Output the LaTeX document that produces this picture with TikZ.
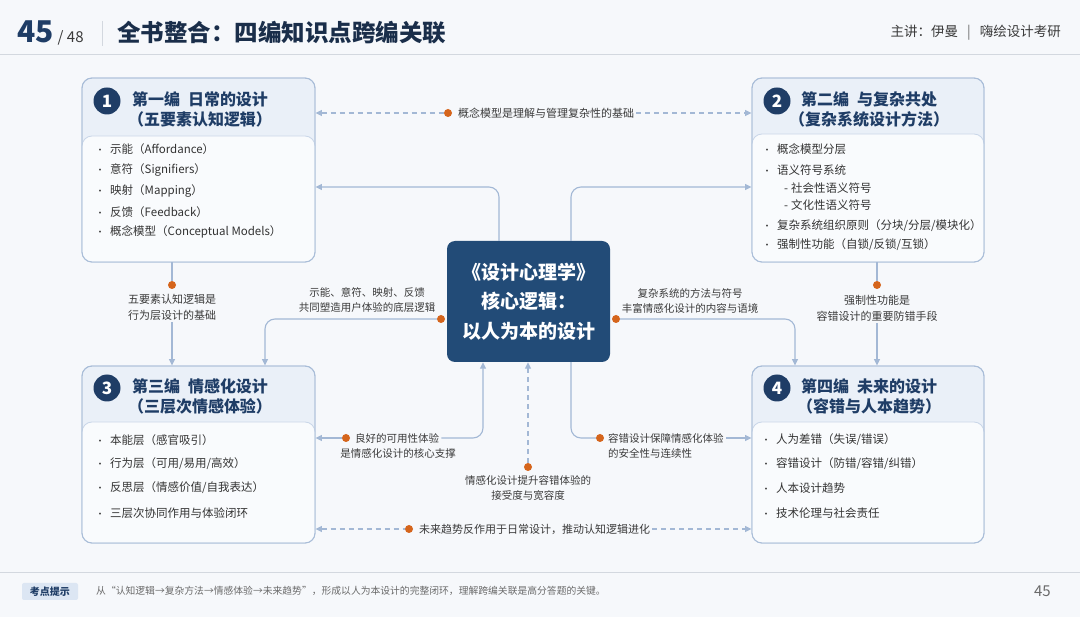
\documentclass[tikz,border=0pt]{standalone}
\usepackage{fontspec}
\setmainfont{Noto Sans CJK SC}
\usetikzlibrary{arrows.meta}
\definecolor{bgc}{HTML}{F6F8FB}
\definecolor{navy}{HTML}{1F3D66}
\definecolor{titlec}{HTML}{1A2E4A}
\definecolor{centf}{HTML}{224B77}
\definecolor{linec}{HTML}{A3B8D5}
\definecolor{orng}{HTML}{D5651C}
\definecolor{boxb}{HTML}{A9BDD8}
\definecolor{boxb2}{HTML}{C9D6E8}
\definecolor{headf}{HTML}{EAF0F8}
\definecolor{bodyf}{HTML}{F9FBFD}
\definecolor{itemc}{HTML}{333333}
\definecolor{labc}{HTML}{3A3A3A}
\definecolor{grayl}{HTML}{D3D8DF}
\definecolor{darkg}{HTML}{3A3A3A}
\definecolor{tagf}{HTML}{DCE6F3}
\definecolor{footc}{HTML}{6A6A6A}
\newcommand{\bitem}[4]{\node[item] (#1) at (#2,#3) {\llap{\makebox[0pt][c]{\fontsize{9}{9}\selectfont •}\hspace{10pt}}#4};}
\begin{document}
\begin{tikzpicture}[x=1pt,y=-1pt,
  conn/.style={draw=linec, line width=1.1pt, rounded corners=10pt},
  dconn/.style={conn, dash pattern=on 5pt off 4pt},
  arrend/.style={-{Triangle[length=6.5pt,width=6pt]}},
  arrstart/.style={{Triangle[length=6.5pt,width=6pt]}-},
  odot/.style={circle, fill=orng, inner sep=0, minimum size=8pt},
  boxo/.style={draw=boxb, fill=headf, rounded corners=10pt, line width=0.9pt, inner sep=0},
  boxi/.style={draw=boxb2, fill=bodyf, rounded corners=10pt, line width=0.8pt, inner sep=0},
  numc/.style={circle, fill=navy, text=white, font=\bfseries\fontsize{17}{17}\selectfont, minimum size=27pt, inner sep=0},
  ttl/.style={align=center, font=\bfseries\fontsize{16}{20}\selectfont, text=navy, inner sep=0},
  item/.style={anchor=west, inner sep=0, font=\fontsize{11.5}{14}\selectfont, text=itemc},
  lab/.style={inner sep=2pt, font=\fontsize{10.5}{15}\selectfont, text=labc, align=center},
  centbox/.style={fill=centf, rounded corners=8pt, minimum width=163pt, minimum height=121pt, text=white, align=center, font=\bfseries\fontsize{19}{29.5}\selectfont, inner sep=0}
]
\useasboundingbox (0,0) rectangle (1080,617);
\fill[bgc] (0,0) rectangle (1080,617);
% header
\draw[grayl, line width=1pt] (0,55) -- (1080,55);
\node[anchor=base west, inner sep=0, text=navy] (pg) at (17,43) {{\bfseries\fontsize{30}{30}\selectfont 45}\hspace{4pt}{\fontsize{15}{15}\selectfont\color{darkg}/ 48}};
\draw[grayl, line width=1pt] (102,21) -- (102,46);
\node[anchor=base west, inner sep=0, text=titlec, font=\bfseries\fontsize{23.5}{24}\selectfont] (title) at (117,42) {全书整合：四编知识点跨编关联};
\node[anchor=east, inner sep=0, font=\fontsize{13.5}{14}\selectfont, text=darkg] (spk) at (1061,33) {主讲：伊曼\hspace{9pt}{\color{footc}|}\hspace{9pt}嗨绘设计考研};
% footer
\draw[grayl, line width=1pt] (0,573) -- (1080,573);
\node[fill=tagf, rounded corners=2pt, minimum width=56pt, minimum height=17pt, inner sep=0, text=navy, font=\bfseries\fontsize{10}{10}\selectfont] (tag) at (50,591.5) {考点提示};
\node[anchor=west, inner sep=0, text=footc, font=\fontsize{9.8}{10}\selectfont] (foot) at (96,591) {从“认知逻辑→复杂方法→情感体验→未来趋势”，形成以人为本设计的完整闭环，理解跨编关联是高分答题的关键。};
\node[anchor=east, inner sep=0, text=footc, font=\fontsize{15}{15}\selectfont] (pnum) at (1051,591) {45};
% boxes
\node[boxo, minimum width=233pt, minimum height=184pt] (b1) at (198.5,170) {};
\node[boxi, minimum width=233pt, minimum height=126pt] (b1i) at (198.5,199) {};
\draw[draw=boxb, line width=.9pt, rounded corners=10pt] (82,78) rectangle (315,262);
\node[boxo, minimum width=232pt, minimum height=184pt] (b2) at (868,170) {};
\node[boxi, minimum width=232pt, minimum height=128pt] (b2i) at (868,198) {};
\draw[draw=boxb, line width=.9pt, rounded corners=10pt] (752,78) rectangle (984,262);
\node[boxo, minimum width=233pt, minimum height=177pt] (b3) at (198.5,454.5) {};
\node[boxi, minimum width=233pt, minimum height=121pt] (b3i) at (198.5,482.5) {};
\draw[draw=boxb, line width=.9pt, rounded corners=10pt] (82,366) rectangle (315,543);
\node[boxo, minimum width=232pt, minimum height=177pt] (b4) at (868,454.5) {};
\node[boxi, minimum width=232pt, minimum height=121pt] (b4i) at (868,482.5) {};
\draw[draw=boxb, line width=.9pt, rounded corners=10pt] (752,366) rectangle (984,543);
% box headers
\node[numc] (n1) at (107,101) {1};
\node[ttl] (t1) at (200,109) {第一编\hspace{0.5em}日常的设计\\（五要素认知逻辑）};
\node[numc] (n2) at (777,101) {2};
\node[ttl] (t2) at (869,109) {第二编\hspace{0.5em}与复杂共处\\（复杂系统设计方法）};
\node[numc] (n3) at (107,388) {3};
\node[ttl] (t3) at (200,396.5) {第三编\hspace{0.5em}情感化设计\\（三层次情感体验）};
\node[numc] (n4) at (777,388) {4};
\node[ttl] (t4) at (869,396.5) {第四编\hspace{0.5em}未来的设计\\（容错与人本趋势）};
% items
\bitem{i11}{110}{149}{示能（Affordance）}
\bitem{i12}{110}{170}{意符（Signifiers）}
\bitem{i13}{110}{191}{映射（Mapping）}
\bitem{i14}{110}{212}{反馈（Feedback）}
\bitem{i15}{110}{232}{概念模型（Conceptual Models）}
\bitem{i21}{777}{149}{概念模型分层}
\bitem{i22}{777}{170}{语义符号系统}
\node[item] (i23) at (784,188) {-\hspace{3pt}社会性语义符号};
\node[item] (i24) at (784,205) {-\hspace{3pt}文化性语义符号};
\bitem{i25}{777}{226}{复杂系统组织原则（分块/分层/模块化）}
\bitem{i26}{777}{245}{强制性功能（自锁/反锁/互锁）}
\bitem{i31}{110}{440}{本能层（感官吸引）}
\bitem{i32}{110}{464}{行为层（可用/易用/高效）}
\bitem{i33}{110}{488}{反思层（情感价值/自我表达）}
\bitem{i34}{110}{513}{三层次协同作用与体验闭环}
\bitem{i41}{776}{440}{人为差错（失误/错误）}
\bitem{i42}{776}{464}{容错设计（防错/容错/纠错）}
\bitem{i43}{776}{488}{人本设计趋势}
\bitem{i44}{776}{513}{技术伦理与社会责任}
% center
\node[centbox] (c) at (528.5,301.5) {《设计心理学》\\核心逻辑：\\以人为本的设计};
% helper coordinates
\coordinate (x499) at (499,0);
\coordinate (x571) at (571,0);
\coordinate (x483) at (483,0);
\coordinate (x265) at (265,0);
\coordinate (x795) at (795,0);
\coordinate (y187) at (0,187);
% dots and labels
\node[odot] (d1) at (448,113) {};
\node[lab, anchor=west, font=\fontsize{11}{14}\selectfont] (l1) at (456,113) {概念模型是理解与管理复杂性的基础};
\node[odot] (dL) at (441,319) {};
\node[lab] (lL) at (367,300.5) {示能、意符、映射、反馈\\共同塑造用户体验的底层逻辑};
\node[odot] (dR) at (616,319) {};
\node[lab] (lR) at (690,300.5) {复杂系统的方法与符号\\丰富情感化设计的内容与语境};
\node[odot] (d6) at (172,285) {};
\node[lab, font=\fontsize{11}{16}\selectfont] (l6) at (172,307) {五要素认知逻辑是\\行为层设计的基础};
\node[odot] (d7) at (877,285) {};
\node[lab, font=\fontsize{11}{16}\selectfont] (l7) at (877,308) {强制性功能是\\容错设计的重要防错手段};
\node[odot] (d8) at (346,438) {};
\node[lab, anchor=west] (l8a) at (353,438) {良好的可用性体验};
\node[lab] (l8b) at (398,453.5) {是情感化设计的核心支撑};
\node[odot] (d9) at (600,438) {};
\node[lab, anchor=west] (l9a) at (606,438) {容错设计保障情感化体验};
\node[lab, anchor=west] (l9b) at (606,453.5) {的安全性与连续性};
\node[odot] (d10) at (528,467) {};
\node[lab] (l10) at (528,488.5) {情感化设计提升容错体验的\\接受度与宽容度};
\node[odot] (d11) at (409,529) {};
\node[lab, anchor=west, font=\fontsize{11}{14}\selectfont] (l11) at (417,529) {未来趋势反作用于日常设计，推动认知逻辑进化};
% connectors
\draw[dconn, arrstart] (b1.east |- d1) -- (d1);
\draw[dconn, arrend] (l1.east) -- (b2.west |- l1);
\draw[conn, arrend] (c.north -| x499) |- (b1.east |- y187);
\draw[conn, arrend] (c.north -| x571) |- (b2.west |- y187);
\draw[conn, arrend] (dL) -| (b3.north -| x265);
\draw[conn, arrend] (dR) -| (b4.north -| x795);
\draw[conn] (d6 |- b1.south) -- (d6);
\draw[conn, arrend] (l6.south) -- (b3.north -| l6.south);
\draw[conn] (d7 |- b2.south) -- (d7);
\draw[conn, arrend] (l7.south) -- (b4.north -| l7.south);
\draw[conn, arrstart] (b3.east |- d8) -- (d8);
\draw[conn, arrend] (l8a.east) -| (c.south -| x483);
\draw[conn] (c.south -| x571) |- (d9);
\draw[conn, arrend] (l9a.east) -- (b4.west |- l9a);
\draw[dconn, arrend] (d10) -- (c.south -| d10);
\draw[dconn, arrstart] (b3.east |- d11) -- (d11);
\draw[dconn, arrend] (l11.east) -- (b4.west |- l11);
\end{tikzpicture}
\end{document}
